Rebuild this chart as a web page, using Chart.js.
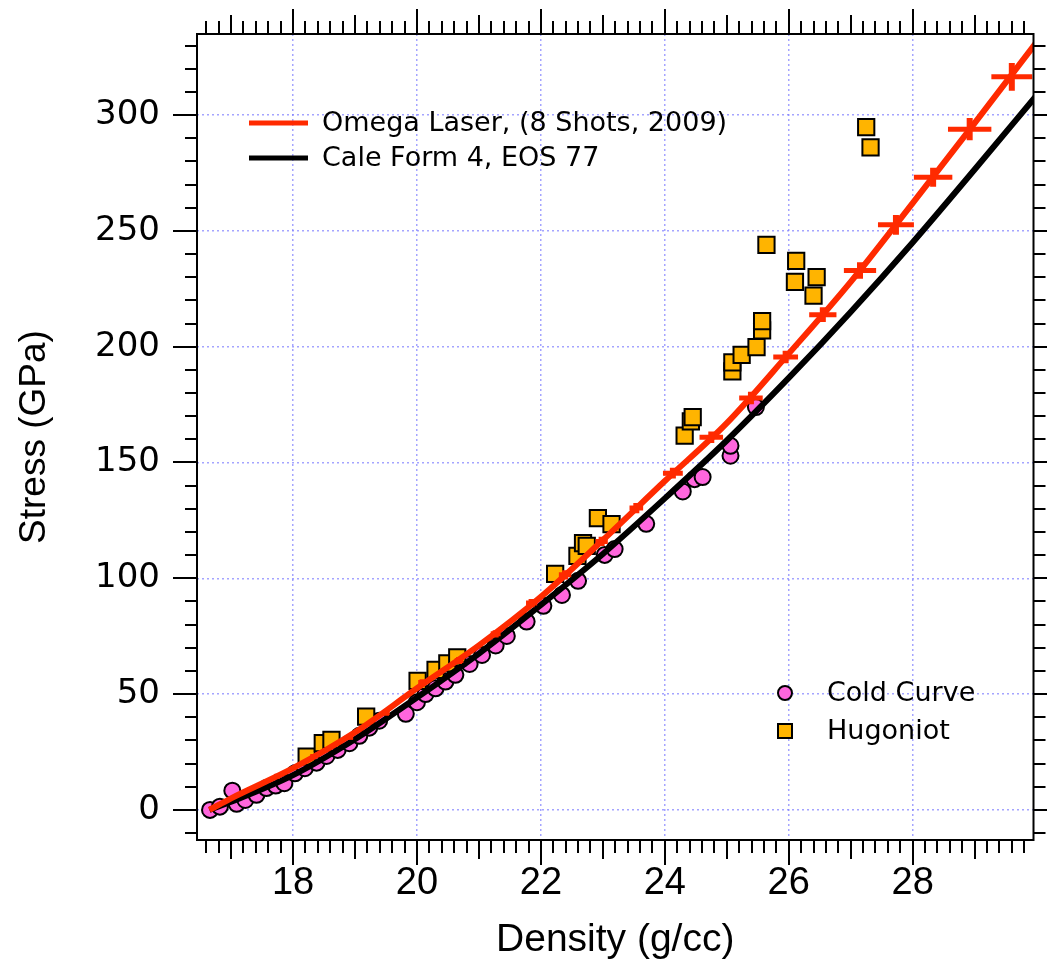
<!DOCTYPE html>
<html>
<head>
<meta charset="utf-8">
<title>Stress vs Density</title>
<script src="https://cdn.jsdelivr.net/npm/chart.js@4.4.0/dist/chart.umd.min.js"></script>
<style>
  body { margin: 0; background: #fff; }
  #wrap { width: 1047px; height: 964px; }
</style>
</head>
<body>
<div id="wrap"><canvas id="myChart" width="1047" height="964"></canvas></div>
<script>
// Axis labels
const densityTicks = [18, 20, 22, 24, 26, 28];
const stressTicks = [0, 50, 100, 150, 200, 250, 300];

// Omega Laser fit curve
const omegaDensity = [16.65, 17, 18, 19, 20, 21, 22, 23, 24, 25, 26, 27, 28, 29, 30];
const omegaStress = [0, 5, 18, 33.5, 52.5, 71, 92, 116.5, 142, 167, 197, 228, 262, 296.5, 331.5];

// Omega Laser error crosses
const omegaBarDensity = [17.74, 18.33, 18.92, 19.5, 20.09, 20.68, 21.27, 21.85, 22.39, 22.98, 23.54,
  24.13, 24.75, 25.39, 25.95, 26.55, 27.15, 27.73, 28.33, 28.92, 29.6];
const omegaBarStress = [14.5, 23, 31.5, 42, 55, 64.5, 76, 89.3, 101.5, 115.9, 130.3,
  145.4, 160.9, 177.8, 195.5, 213.8, 232.9, 252.6, 273.2, 293.9, 316.5];
const omegaBarDensityErr = [0.04, 0.05, 0.05, 0.06, 0.07, 0.07, 0.08, 0.09, 0.1, 0.1, 0.11,
  0.16, 0.19, 0.19, 0.2, 0.22, 0.26, 0.29, 0.31, 0.35, 0.33];
const omegaBarStressErr = [1, 1, 1.2, 1.3, 1.4, 1.5, 1.6, 1.8, 2, 2, 2.2,
  2.3, 2.5, 2.7, 2.7, 3.2, 3.6, 4.3, 4.1, 4.8, 6];

// Cale Form 4, EOS 77
const caleDensity = [16.65, 17, 18, 19, 20, 21, 22, 23, 24, 25, 26, 27, 28, 29, 30];
const caleStress = [0, 3.5, 15, 30.5, 48.5, 67.5, 88.5, 110.5, 134.5, 159.5, 186.5, 215, 245, 276.5, 308.5];

// Cold curve points
const coldDensity = [16.66, 16.82, 17.02, 17.09, 17.23, 17.41, 17.57, 17.72, 17.86, 18.03, 18.19,
  18.38, 18.54, 18.72, 18.91, 19.07, 19.23, 19.39, 19.82, 20.0, 20.14, 20.3, 20.46, 20.62, 20.85,
  21.05, 21.27, 21.45, 21.77, 22.04, 22.34, 22.6, 23.03, 23.19, 23.7, 24.29, 24.48, 24.61,
  25.06, 25.06, 25.47];
const coldStress = [0, 1.4, 8.3, 2.6, 4.3, 6.5, 9.4, 10.5, 11.5, 15.8, 18,
  20.4, 23.3, 25.9, 28.8, 32, 35.5, 38.5, 41.5, 46.5, 50, 52.5, 55.4, 58.3, 63,
  66.9, 71, 75.1, 81.3, 88.1, 92.8, 98.9, 110.1, 112.6, 123.5, 137.5, 142.8, 143.7,
  152.9, 157.2, 173.9];

// Hugoniot points
const hugDensity = [18.22, 18.48, 18.62, 19.18, 20.01, 20.3, 20.49, 20.65, 22.23, 22.59, 22.68,
  22.74, 22.92, 23.14, 24.32, 24.42, 24.45, 25.09, 25.09, 25.24, 25.48, 25.57, 25.57, 25.64,
  26.1, 26.12, 26.4, 26.45, 27.25, 27.32];
const hugStress = [23, 28.8, 30.2, 40.3, 55.7, 60.5, 63.3, 65.9, 101.9, 109.7, 115.2,
  114, 126, 123.4, 161.6, 167.7, 169.6, 189.3, 193.2, 196.5, 199.8, 207, 211, 244,
  228, 237, 222, 230, 294.8, 286];

const RED = '#ff2a00';
const PINK = '#ff66dd';
const ORANGE = '#ffb400';
const GRID = 'rgba(125, 125, 255, 0.7)';

const pts = (xs, ys) => xs.map((x, i) => ({ x: x, y: ys[i] }));

// keep the plot box fixed: no extra room for the end labels
const noLabelPadding = s => {
    s.paddingTop = 0;
    s.paddingBottom = 0;
    s.paddingLeft = 0;
    s.paddingRight = 0;
};

// red crosses on the Omega curve
const omegaErrorBars = {
    id: 'omegaErrorBars',
    afterDatasetsDraw(chart) {
        const { ctx, chartArea: a, scales: { x, y } } = chart;
        ctx.save();
        ctx.beginPath();
        ctx.rect(a.left, a.top, a.right - a.left, a.bottom - a.top);
        ctx.clip();
        ctx.strokeStyle = RED;
        omegaBarDensity.forEach((d, i) => {
            const s = omegaBarStress[i];
            const px = x.getPixelForValue(d);
            const py = y.getPixelForValue(s);
            ctx.lineWidth = 5;
            ctx.beginPath();
            ctx.moveTo(x.getPixelForValue(d - omegaBarDensityErr[i]), py);
            ctx.lineTo(x.getPixelForValue(d + omegaBarDensityErr[i]), py);
            ctx.stroke();
            ctx.lineWidth = 6;
            ctx.beginPath();
            ctx.moveTo(px, y.getPixelForValue(s - omegaBarStressErr[i]));
            ctx.lineTo(px, y.getPixelForValue(s + omegaBarStressErr[i]));
            ctx.stroke();
        });
        ctx.restore();
    }
};

// box around the plot plus tick marks on all four sides
const frameTicks = {
    id: 'frameTicks',
    afterDraw(chart) {
        const { ctx, chartArea: a, scales: { x, y } } = chart;
        ctx.save();
        ctx.strokeStyle = '#000';
        ctx.lineWidth = 2;
        ctx.strokeRect(a.left, a.top, a.right - a.left, a.bottom - a.top);
        ctx.beginPath();
        for (let i = 83; i <= 149; i++) {
            const px = Math.round(x.getPixelForValue(i / 5));
            const len = i % 10 === 0 ? 25 : (i % 5 === 0 ? 19 : 13);
            ctx.moveTo(px, a.bottom);
            ctx.lineTo(px, a.bottom + len);
            ctx.moveTo(px, a.top);
            ctx.lineTo(px, a.top - len);
        }
        for (let v = -10; v <= 330; v += 10) {
            const py = Math.round(y.getPixelForValue(v));
            const len = v % 50 === 0 ? 24 : 12;
            ctx.moveTo(a.left, py);
            ctx.lineTo(a.left - len, py);
            ctx.moveTo(a.right, py);
            ctx.lineTo(a.right + len, py);
        }
        ctx.stroke();
        ctx.restore();
    }
};

// the two legend boxes inside the plot
const insideLegends = {
    id: 'insideLegends',
    afterDraw(chart) {
        const { ctx, chartArea: a } = chart;
        const ds = chart.data.datasets;
        ctx.save();
        ctx.font = '27px "DejaVu Sans"';
        ctx.fillStyle = '#000';
        ctx.textBaseline = 'middle';
        ctx.textAlign = 'left';

        const lx = a.left + 52;
        [[ds[0], 123], [ds[1], 158]].forEach(([d, ly]) => {
            ctx.strokeStyle = d.borderColor;
            ctx.lineWidth = 5;
            ctx.beginPath();
            ctx.moveTo(lx, ly);
            ctx.lineTo(lx + 59, ly);
            ctx.stroke();
            ctx.fillText(d.label, lx + 73, ly + 1);
        });

        const mx = 785;
        ctx.lineWidth = 2;
        ctx.strokeStyle = '#000';
        ctx.fillStyle = PINK;
        ctx.beginPath();
        ctx.arc(mx, 693, 7, 0, Math.PI * 2);
        ctx.fill();
        ctx.stroke();
        ctx.fillStyle = ORANGE;
        ctx.fillRect(mx - 7, 724, 14, 14);
        ctx.strokeRect(mx - 7, 724, 14, 14);
        ctx.fillStyle = '#000';
        ctx.fillText(ds[3].label, 827, 694);
        ctx.fillText(ds[2].label, 827, 732);
        ctx.restore();
    }
};

const ctx = document.getElementById('myChart').getContext('2d');
const myChart = new Chart(ctx, {
    type: 'scatter',
    data: {
        datasets: [{
            label: 'Omega Laser, (8 Shots, 2009)',
            data: pts(omegaDensity, omegaStress),
            showLine: true,
            borderColor: RED,
            borderWidth: 6,
            pointRadius: 0,
            cubicInterpolationMode: 'monotone',
            order: 0
        }, {
            label: 'Cale Form 4, EOS 77',
            data: pts(caleDensity, caleStress),
            showLine: true,
            borderColor: '#000',
            borderWidth: 6,
            pointRadius: 0,
            cubicInterpolationMode: 'monotone',
            order: 1
        }, {
            label: 'Hugoniot',
            data: pts(hugDensity, hugStress),
            pointStyle: 'rect',
            pointRadius: 11.5,
            backgroundColor: ORANGE,
            borderColor: '#000',
            borderWidth: 2,
            order: 2
        }, {
            label: 'Cold Curve',
            data: pts(coldDensity, coldStress),
            pointStyle: 'circle',
            pointRadius: 8,
            backgroundColor: PINK,
            borderColor: '#000',
            borderWidth: 2,
            order: 3
        }]
    },
    options: {
        responsive: false,
        animation: false,
        events: [],
        layout: { padding: { top: 34, right: 10, left: 0, bottom: 0 } },
        plugins: { legend: { display: false }, tooltip: { enabled: false } },
        scales: {
            x: {
                type: 'linear',
                min: 16.45,
                max: 29.95,
                afterFit: s => { s.height = 124; noLabelPadding(s); },
                afterBuildTicks: s => { s.ticks = densityTicks.map(v => ({ value: v })); },
                grid: { color: GRID, lineWidth: 1.5, drawTicks: false },
                border: { display: false, dash: [2, 3] },
                ticks: {
                    autoSkip: false,
                    maxRotation: 0,
                    padding: 21,
                    color: '#000',
                    font: { family: '"Liberation Sans", Arial, sans-serif', size: 38 }
                },
                title: {
                    display: true,
                    text: 'Density (g/cc)',
                    color: '#000',
                    padding: { top: 0, bottom: 0 },
                    font: { family: '"Liberation Sans", Arial, sans-serif', size: 39 }
                }
            },
            y: {
                type: 'linear',
                min: -13,
                max: 335,
                afterFit: s => { s.width = 197; noLabelPadding(s); },
                afterBuildTicks: s => { s.ticks = stressTicks.map(v => ({ value: v })); },
                grid: { color: GRID, lineWidth: 1.5, drawTicks: false },
                border: { display: false, dash: [2, 3] },
                ticks: {
                    autoSkip: false,
                    padding: 37,
                    color: '#000',
                    font: { family: '"DejaVu Sans", sans-serif', size: 34 }
                },
                title: {
                    display: true,
                    text: 'Stress (GPa)',
                    color: '#000',
                    padding: { top: 13, bottom: 0 },
                    font: { family: '"Liberation Sans", Arial, sans-serif', size: 37 }
                }
            }
        }
    },
    plugins: [omegaErrorBars, frameTicks, insideLegends]
});
</script>
</body>
</html>
